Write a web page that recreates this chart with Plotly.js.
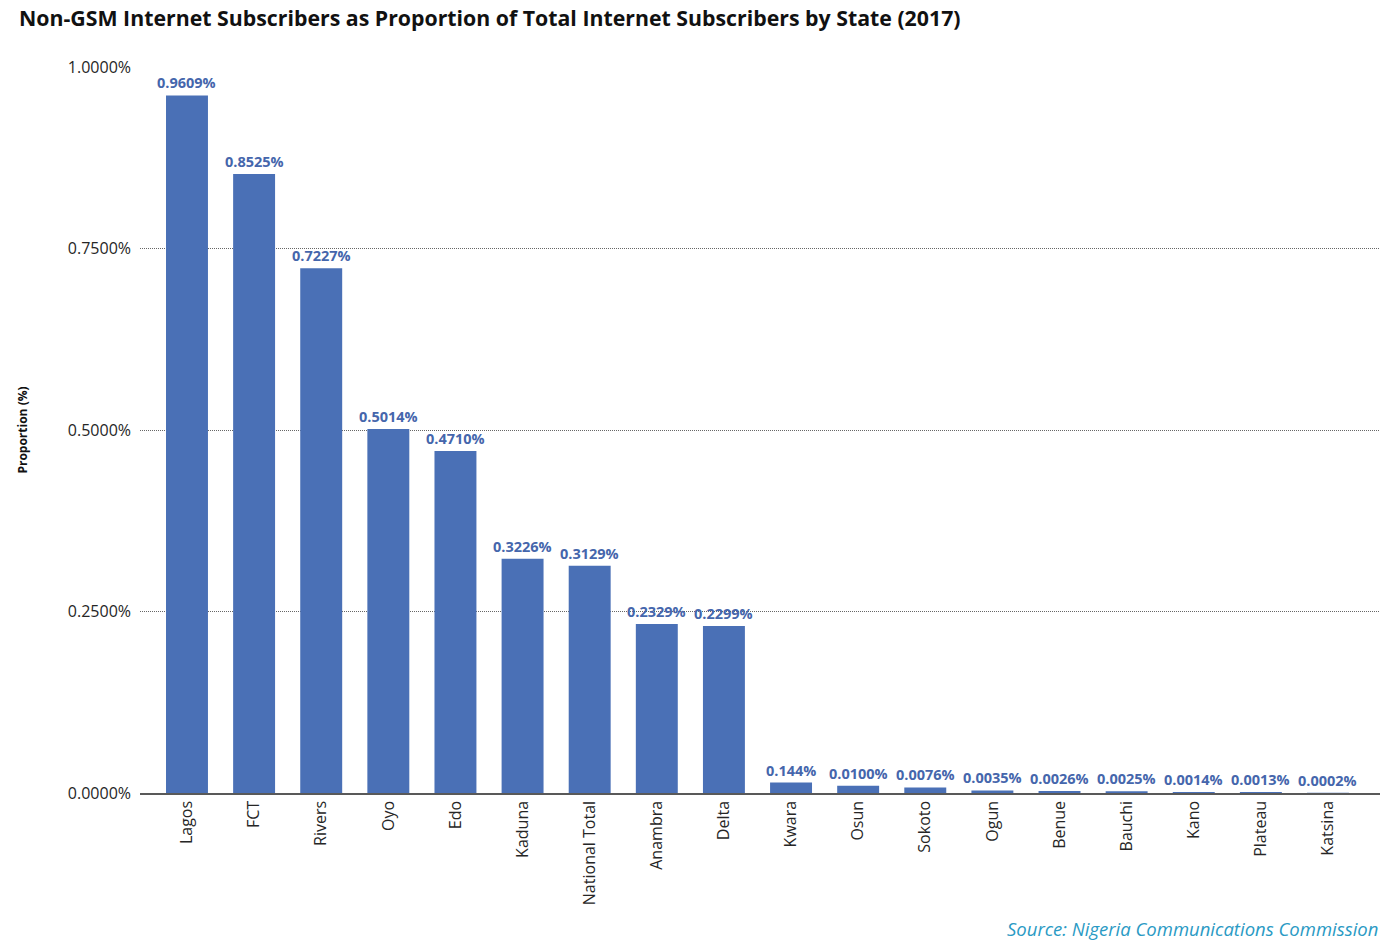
<!DOCTYPE html>
<html>
<head>
<meta charset="utf-8">
<script src="https://cdn.plot.ly/plotly-3.0.1.min.js"></script>
<style>html,body{margin:0;padding:0;background:#fff;}#chart{width:1396px;height:947px;}</style>
</head>
<body>
<div id="chart"></div>
<script>
const states = ["Lagos","FCT","Rivers","Oyo","Edo","Kaduna","National Total","Anambra","Delta","Kwara","Osun","Sokoto","Ogun","Benue","Bauchi","Kano","Plateau","Katsina"];
const proportions = [0.9609,0.8525,0.7227,0.5014,0.4710,0.3226,0.3129,0.2329,0.2299,0.0144,0.0100,0.0076,0.0035,0.0026,0.0025,0.0014,0.0013,0.0002];
const valueLabels = ["0.9609%","0.8525%","0.7227%","0.5014%","0.4710%","0.3226%","0.3129%","0.2329%","0.2299%","0.144%","0.0100%","0.0076%","0.0035%","0.0026%","0.0025%","0.0014%","0.0013%","0.0002%"];
const yTicks = [0,0.25,0.5,0.75,1.0];
const yTickLabels = ["0.0000%","0.2500%","0.5000%","0.7500%","1.0000%"];

const font = "'Open Sans', 'Noto Sans', sans-serif";

const annotations = states.map((s,i)=>({
  x: s, y: proportions[i], xref:'x', yref:'y',
  text: valueLabels[i], showarrow:false, yanchor:'bottom', xanchor:'center', yshift:1,
  font:{family:font,size:14.5,color:'#4566AC',weight:'bold'}
}));
annotations.push({
  xref:'paper', yref:'paper', x:-0.0988, y:1, yshift:50, xanchor:'left', yanchor:'middle',
  text:'<b>Non-GSM Internet Subscribers as Proportion of Total Internet Subscribers by State (2017)</b>',
  showarrow:false, font:{family:font,size:21.3,color:'#111111'}
});
annotations.push({
  xref:'paper', yref:'paper', x:1, y:0, yshift:-135, xanchor:'right', yanchor:'middle',
  text:'<i>Source: Nigeria Communications Commission</i>',
  showarrow:false, font:{family:font,size:18.5,color:'#2A9AC4'}
});

const trace = {
  type:'bar', x: states, y: proportions,
  marker:{color:'#4A70B6'},
  hoverinfo:'none'
};

const layout = {
  width:1396, height:947,
  margin:{l:140,r:16,t:67,b:154},
  paper_bgcolor:'#fff', plot_bgcolor:'#fff',
  showlegend:false,
  bargap:0.375,
  font:{family:font},
  xaxis:{
    type:'category', range:[-0.70,17.775],
    tickangle:-90, ticks:'', tickfont:{family:font,size:16,color:'#262626'},
    showline:true, linecolor:'#595959', linewidth:1.5,
    showgrid:false, zeroline:false, ticklabelstandoff:0
  },
  yaxis:{
    range:[0,1.0], tickvals:yTicks, ticktext:yTickLabels,
    tickfont:{family:font,size:16,color:'#262626'},
    showgrid:true, gridcolor:'#666666', griddash:'1px,1px', gridwidth:1,
    zeroline:false, showline:false, ticks:'', ticklabelstandoff:8,
    title:{text:'<b>Proportion (%)</b>', font:{family:font,size:12,color:'#111'}, standoff:37}
  },
  annotations: annotations
};

Plotly.newPlot('chart',[trace],layout,{staticPlot:true,displayModeBar:false});
</script>
</body>
</html>
